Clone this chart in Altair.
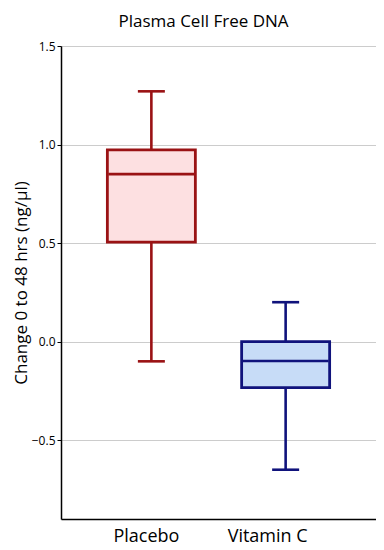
import altair as alt
import pandas as pd

groups = ["Placebo", "Vitamin C"]
mins = [-0.10, -0.65]
q1s = [0.505, -0.233]
medians = [0.85, -0.098]
q3s = [0.973, 0.0]
maxs = [1.27, 0.20]
strokes = ["#9a1214", "#10137c"]
fills = ["#fde0e1", "#c7dcf7"]

df = pd.DataFrame({
    "group": groups, "min": mins, "q1": q1s, "median": medians,
    "q3": q3s, "max": maxs,
})

FONT = "Open Sans"
color_scale = alt.Scale(domain=groups, range=strokes)
fill_scale = alt.Scale(domain=groups, range=fills)

x = alt.X(
    "group:N",
    scale=alt.Scale(domain=groups, paddingInner=0, paddingOuter=0.173),
    axis=alt.Axis(
        title=None, labelAngle=0, ticks=False, grid=False,
        domainColor="black", domainWidth=1.5,
        labelFont=FONT, labelFontSize=18, labelColor="black", labelPadding=8,
        labelOffset={"condition": {"test": "datum.value == 'Placebo'", "value": -5}, "value": -18},
    ),
)
y_scale = alt.Scale(domain=[-0.9, 1.5], nice=False, zero=False)
y_axis = alt.Axis(
    title="Change 0 to 48 hrs (ng/µl)", values=[-0.5, 0.0, 0.5, 1.0, 1.5], format=".1f",
    domainColor="black", domainWidth=1.5, tickColor="black", tickSize=4,
    gridColor="#cccccc", gridWidth=1.2,
    labelFont=FONT, labelFontSize=12, labelColor="black", labelPadding=2,
    titleFont=FONT, titleFontSize=17, titleFontWeight="normal", titleColor="black",
    titlePadding=1,
)

base = alt.Chart(df).encode(x=x)

whisker = base.mark_rule(strokeWidth=2.6).encode(
    y=alt.Y("min:Q", scale=y_scale, axis=y_axis),
    y2="max:Q",
    color=alt.Color("group:N", scale=color_scale, legend=None),
)
box = base.mark_bar(size=88, strokeWidth=2.8, opacity=1).encode(
    y="q1:Q", y2="q3:Q",
    fill=alt.Fill("group:N", scale=fill_scale, legend=None),
    stroke=alt.Stroke("group:N", scale=color_scale, legend=None),
)
med = base.mark_tick(size=86, thickness=2.6, opacity=1).encode(
    y="median:Q", color=alt.Color("group:N", scale=color_scale, legend=None),
)
cap_lo = base.mark_tick(size=27, thickness=2.6, opacity=1).encode(
    y="min:Q", color=alt.Color("group:N", scale=color_scale, legend=None),
)
cap_hi = base.mark_tick(size=27, thickness=2.6, opacity=1).encode(
    y="max:Q", color=alt.Color("group:N", scale=color_scale, legend=None),
)

chart = alt.layer(whisker, box, med, cap_lo, cap_hi).properties(
    width=315, height=473,
    title=alt.TitleParams(
        "Plasma Cell Free DNA", font=FONT, fontSize=17, fontWeight="normal",
        color="black", anchor="middle", offset=9, dx=-15,
    ),
    autosize=alt.AutoSizeParams(type="none"),
    padding={"left": 53, "top": 38, "right": 0, "bottom": 30},
).configure_view(stroke=None).configure(background="white")

chart.save("out.html", embed_options={"renderer": "svg", "actions": False})
